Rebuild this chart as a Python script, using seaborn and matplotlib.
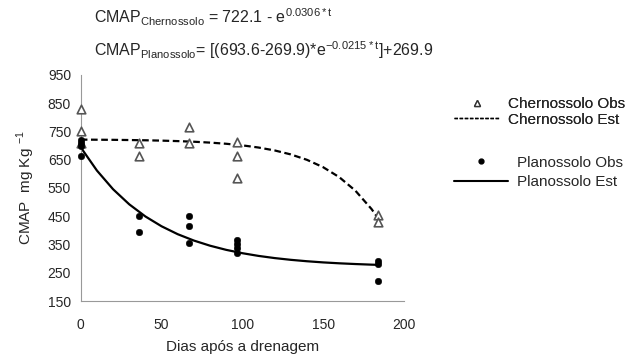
import pandas as pd
import matplotlib.pyplot as plt
import seaborn as sns
from matplotlib.lines import Line2D

# dados
cher_dias = [0, 0, 0, 36, 36, 67, 67, 97, 97, 97, 184, 184]
cher_obs = [830, 752, 709, 710, 663, 767, 708, 712, 663, 584, 454, 429]

plan_dias = [0, 0, 0, 0, 36, 36, 67, 67, 67, 97, 97, 97, 97, 184, 184, 184]
plan_obs = [718, 708, 698, 664, 451, 395, 452, 415, 354, 366, 351, 336, 319, 292, 281, 221]

est_dias = [0, 10, 20, 30, 40, 50, 60, 70, 80, 90, 100, 110, 120, 130, 140, 150, 160, 170, 180, 184]
cher_est = [721.1, 720.7, 720.3, 719.6, 718.7, 717.5, 715.8, 713.6, 710.5, 706.4, 700.8,
            693.1, 682.8, 668.7, 649.6, 623.6, 588.3, 540.4, 475.4, 443.4]
plan_est = [693.6, 611.6, 545.5, 492.2, 449.2, 414.5, 386.5, 364.0, 345.8, 331.1, 319.3,
            309.7, 302.0, 295.8, 290.8, 286.7, 283.5, 280.9, 278.7, 278.0]

sns.set_style('white')
plt.rcParams['font.family'] = ['Liberation Sans', 'DejaVu Sans']
plt.rcParams['mathtext.fontset'] = 'custom'
plt.rcParams['mathtext.rm'] = 'Liberation Sans'

fig = plt.figure(figsize=(6.36, 3.55), dpi=100)
ax = fig.add_axes([0.127, 0.152, 0.508, 0.637])

sns.lineplot(x=est_dias, y=cher_est, ax=ax, color='black', lw=1.6, linestyle=(0, (3, 1.6)))
sns.lineplot(x=est_dias, y=plan_est, ax=ax, color='black', lw=1.6)
sns.scatterplot(x=cher_dias, y=cher_obs, ax=ax, marker='^', s=38, facecolor='white',
                edgecolor='#555555', linewidth=1.2, zorder=3, clip_on=False)
sns.scatterplot(x=plan_dias, y=plan_obs, ax=ax, marker='o', s=22, color='black',
                edgecolor='black', zorder=3, clip_on=False)

ax.set_xlim(0, 200)
ax.set_ylim(150, 950)
ax.set_xticks([0, 50, 100, 150, 200])
ax.set_yticks(range(150, 951, 100))
for s in ['top', 'right']:
    ax.spines[s].set_visible(False)
for s in ['left', 'bottom']:
    ax.spines[s].set_color('#999999')
ax.tick_params(direction='out', length=4, color='#999999', labelsize=10, pad=3)
ax.tick_params(axis='x', pad=8)
ax.set_xlabel('Dias após a drenagem', fontsize=11, labelpad=6)
ax.set_ylabel(r'CMAP  mg Kg $^{\mathregular{-1}}$', fontsize=11, labelpad=8)

# equações
fig.text(0.148, 0.935, r'CMAP$_{\mathregular{Chernossolo}}$ = 722.1 - e$^{\mathregular{0.0306*t}}$',
         fontsize=11.5)
fig.text(0.148, 0.842, r'CMAP$_{\mathregular{Planossolo}}$= [(693.6-269.9)*e$^{\mathregular{-0.0215*t}}$]+269.9',
         fontsize=11.5)

# legenda
h1 = [Line2D([], [], marker='^', ls='none', mfc='white', mec='#333333', ms=5),
      Line2D([], [], color='black', lw=1, ls=(0, (2.5, 1.2)))]
leg1 = fig.legend(h1, ['Chernossolo Obs', 'Chernossolo Est'], loc='upper left',
                  bbox_to_anchor=(0.693, 0.765), frameon=False, fontsize=11,
                  handlelength=3.0, labelspacing=0.1, handletextpad=0.5)
h2 = [Line2D([], [], marker='o', ls='none', color='black', ms=3.5),
      Line2D([], [], color='black', lw=1.5)]
fig.legend(h2, ['Planossolo Obs', 'Planossolo Est'], loc='upper left',
           bbox_to_anchor=(0.693, 0.6), frameon=False, fontsize=11,
           handlelength=3.5, labelspacing=0.35, handletextpad=0.6)
fig.add_artist(leg1)

plt.savefig('out.png', dpi=100)
